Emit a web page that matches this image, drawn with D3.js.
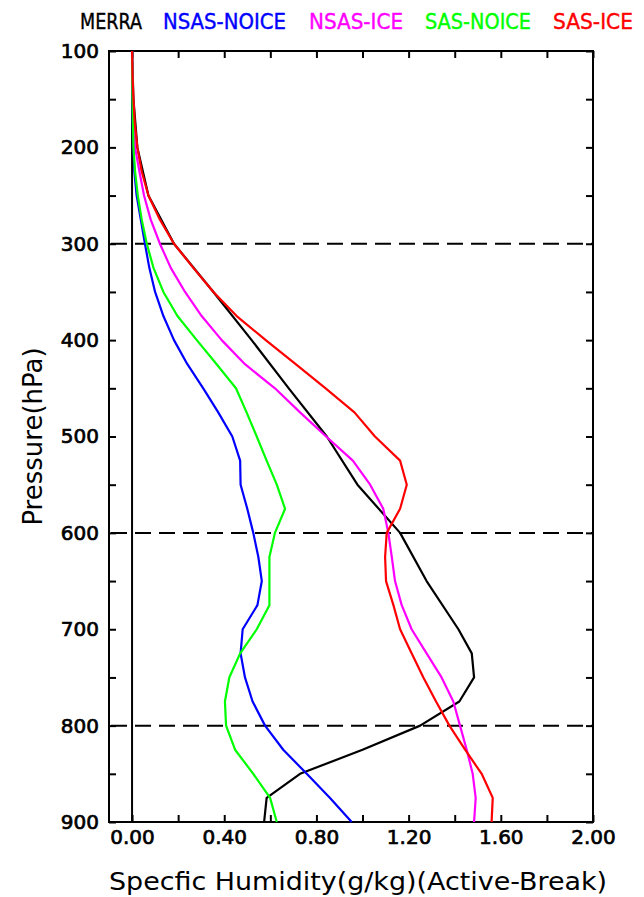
<!DOCTYPE html>
<html>
<head>
<meta charset="utf-8">
<script src="https://cdn.jsdelivr.net/npm/d3@7"></script>
<style>
  body { margin: 0; background: #fff; }
  text { font-family: "DejaVu Sans", sans-serif; fill: #000; }
</style>
</head>
<body>
<div id="chart"></div>
<script>
// pressure levels (hPa)
const merraLevels = [100, 150, 200, 250, 300, 350, 400, 450, 500, 550, 600, 650, 700, 725, 750, 775, 800, 825, 850, 875, 900];
const modelLevels = [100, 125, 150, 175, 200, 225, 250, 275, 300, 325, 350, 375, 400, 425, 450, 475, 500,
  525, 550, 575, 600, 625, 650, 675, 700, 725, 750, 775, 800, 825, 850, 875, 900];

// specific humidity difference (g/kg), active minus break
const merra = [0, 0.006, 0.023, 0.071, 0.182, 0.353, 0.519, 0.68, 0.845, 0.978, 1.163, 1.278, 1.416, 1.474, 1.484, 1.42, 1.25, 1.0, 0.729, 0.584, 0.573];
const nsasNoice = [0, 0.001, 0.002, 0.003, 0.006, 0.01, 0.02, 0.038, 0.056, 0.075, 0.1, 0.136, 0.182, 0.24, 0.309, 0.374, 0.435,
  0.469, 0.471, 0.5, 0.526, 0.548, 0.563, 0.544, 0.48, 0.471, 0.49, 0.523, 0.577, 0.656, 0.758, 0.859, 0.953];
const nsasIce = [0, 0.001, 0.004, 0.008, 0.013, 0.032, 0.052, 0.081, 0.121, 0.168, 0.23, 0.302, 0.389, 0.49, 0.62, 0.729, 0.842,
  0.958, 1.033, 1.09, 1.112, 1.127, 1.141, 1.17, 1.213, 1.278, 1.343, 1.394, 1.423, 1.452, 1.478, 1.491, 1.484];
const sasNoice = [0, 0.001, 0.002, 0.004, 0.006, 0.013, 0.025, 0.042, 0.064, 0.093, 0.136, 0.197, 0.281, 0.367, 0.451, 0.497, 0.541,
  0.584, 0.628, 0.664, 0.62, 0.596, 0.596, 0.596, 0.541, 0.469, 0.422, 0.403, 0.408, 0.447, 0.526, 0.599, 0.628];
const sasIce = [0, 0.002, 0.006, 0.012, 0.023, 0.042, 0.071, 0.121, 0.182, 0.266, 0.353, 0.454, 0.58, 0.71, 0.84, 0.965, 1.054,
  1.163, 1.192, 1.163, 1.105, 1.098, 1.102, 1.134, 1.163, 1.213, 1.264, 1.319, 1.377, 1.445, 1.517, 1.565, 1.56];

const seriesNames = ['MERRA', 'NSAS-NOICE', 'NSAS-ICE', 'SAS-NOICE', 'SAS-ICE'];
const seriesColors = ['#000000', '#0000ff', '#ff00ff', '#00ff00', '#ff0000'];
const seriesLevels = [merraLevels, modelLevels, modelLevels, modelLevels, modelLevels];
const seriesValues = [merra, nsasNoice, nsasIce, sasNoice, sasIce];

const xTicks = [0, 0.2, 0.4, 0.6, 0.8, 1.0, 1.2, 1.4, 1.6, 1.8, 2.0];
const xLabelTicks = [0, 0.4, 0.8, 1.2, 1.6, 2.0];
const yTicks = [100, 150, 200, 250, 300, 350, 400, 450, 500, 550, 600, 650, 700, 750, 800, 850, 900];
const dashedLevels = [300, 600, 800];

const width = 644;
const height = 897;
const plot = { left: 109, right: 593, top: 51, bottom: 822 };

const svg = d3.select('#chart')
  .append('svg')
  .attr('width', width)
  .attr('height', height);

const x = d3.scaleLinear().domain([-0.1, 2.0]).range([plot.left, plot.right]);
const y = d3.scaleLinear().domain([100, 900]).range([plot.top, plot.bottom]);

// axes, ticks pointing inward
const fmtX = d => xLabelTicks.some(t => Math.abs(t - d) < 1e-9) ? d3.format('.2f')(d) : '';
const fmtY = d => d % 100 === 0 ? String(d) : '';

function styleAxis(g) {
  g.select('.domain').remove();
  g.selectAll('.tick line').attr('stroke', '#000').attr('stroke-width', 2);
  // slight stroke thickens the glyphs without widening them
  g.selectAll('.tick text')
    .style('font-family', '"DejaVu Sans", sans-serif')
    .style('font-size', '20px')
    .attr('fill', '#000')
    .attr('stroke', '#000')
    .attr('stroke-width', 0.7);
}

svg.append('g')
  .attr('transform', `translate(0,${plot.bottom})`)
  .call(d3.axisBottom(x).tickValues(xTicks).tickSizeInner(-7).tickSizeOuter(0).tickPadding(8).tickFormat(fmtX))
  .call(styleAxis);

svg.append('g')
  .attr('transform', `translate(0,${plot.top})`)
  .call(d3.axisTop(x).tickValues(xTicks).tickSizeInner(-7).tickSizeOuter(0).tickFormat(''))
  .call(styleAxis);

svg.append('g')
  .attr('transform', `translate(${plot.left},0)`)
  .call(d3.axisLeft(y).tickValues(yTicks).tickSizeInner(-7).tickSizeOuter(0).tickPadding(10).tickFormat(fmtY))
  .call(styleAxis);

svg.append('g')
  .attr('transform', `translate(${plot.right},0)`)
  .call(d3.axisRight(y).tickValues(yTicks).tickSizeInner(-7).tickSizeOuter(0).tickFormat(''))
  .call(styleAxis);

// frame
svg.append('rect')
  .attr('x', plot.left)
  .attr('y', plot.top)
  .attr('width', plot.right - plot.left)
  .attr('height', plot.bottom - plot.top)
  .attr('fill', 'none')
  .attr('stroke', '#000')
  .attr('stroke-width', 2);

// zero line
svg.append('line')
  .attr('x1', x(0)).attr('x2', x(0))
  .attr('y1', y(100)).attr('y2', y(900))
  .attr('stroke', '#000')
  .attr('stroke-width', 2);

// dashed reference levels
svg.append('g')
  .selectAll('line')
  .data(dashedLevels)
  .enter().append('line')
  .attr('x1', plot.left + 2)
  .attr('x2', plot.right)
  .attr('y1', d => y(d))
  .attr('y2', d => y(d))
  .attr('stroke', '#000')
  .attr('stroke-width', 2)
  .attr('stroke-dasharray', '16,8');

// profiles
const line = d3.line()
  .x(d => x(d[1]))
  .y(d => y(d[0]));

svg.append('g')
  .selectAll('path')
  .data(seriesNames.map((name, i) => ({
    name,
    color: seriesColors[i],
    points: seriesLevels[i].map((p, j) => [p, seriesValues[i][j]])
  })))
  .enter().append('path')
  .attr('fill', 'none')
  .attr('stroke', d => d.color)
  .attr('stroke-width', 2.2)
  .attr('stroke-linejoin', 'round')
  .attr('d', d => line(d.points));

// legend across the top
const legendX = [80, 163, 309, 425, 553];
const legendW = [62, 123, 94, 106, 80];
svg.append('g')
  .selectAll('text')
  .data(seriesNames)
  .enter().append('text')
  .attr('x', (d, i) => legendX[i])
  .attr('y', 29)
  .attr('textLength', (d, i) => legendW[i])
  .attr('lengthAdjust', 'spacingAndGlyphs')
  .style('font-size', '21px')
  .style('fill', (d, i) => seriesColors[i])
  .style('stroke', (d, i) => seriesColors[i])
  .style('stroke-width', 0.4)
  .text(d => d);

// axis titles
svg.append('text')
  .attr('x', 109)
  .attr('y', 890)
  .attr('textLength', 498)
  .attr('lengthAdjust', 'spacingAndGlyphs')
  .style('font-size', '25px')
  .text('Specfic Humidity(g/kg)(Active-Break)');

svg.append('text')
  .attr('transform', `translate(42,${(plot.top + plot.bottom) / 2}) rotate(-90)`)
  .attr('text-anchor', 'middle')
  .style('font-size', '26px')
  .text('Pressure(hPa)');
</script>
</body>
</html>
